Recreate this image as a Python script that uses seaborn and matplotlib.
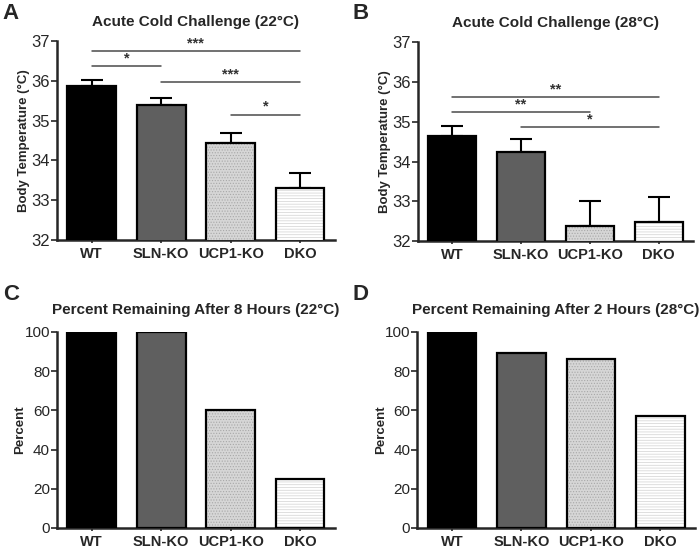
import matplotlib
matplotlib.use("Agg")
import matplotlib.pyplot as plt
import seaborn as sns
import pandas as pd
from matplotlib.colors import to_rgba

sns.set_theme(style="ticks")
plt.rcParams['font.family'] = ['Liberation Sans', 'DejaVu Sans']
plt.rcParams['hatch.linewidth'] = 0.5

# ---- data ----
groups = ["WT", "SLN-KO", "UCP1-KO", "DKO"]
temp22 = [35.88, 35.40, 34.43, 33.31]
err22 = [0.13, 0.18, 0.27, 0.38]
temp28 = [34.65, 34.24, 32.39, 32.47]
err28 = [0.25, 0.33, 0.63, 0.63]
pct8h22 = [100, 100, 60, 25]
pct2h28 = [100, 89, 86, 57]
sig22 = [(0, 3, 36.75, "***"), (0, 1, 36.37, "*"), (1, 3, 35.96, "***"), (2, 3, 35.15, "*")]
sig28 = [(0, 3, 35.61, "**"), (0, 2, 35.25, "**"), (1, 3, 34.87, "*")]

face_colors = ["#000000", "#5f5f5f", "#d6d6d6", "#ffffff"]
hatches = [None, None, "......", "------"]
hatch_colors = [None, None, "#a8a8a8", "#d2d2d2"]

fig = plt.figure(figsize=(7.0, 5.48), dpi=100)
axA = fig.add_axes([0.0814, 0.562, 0.397, 0.363])
axB = fig.add_axes([0.597, 0.560, 0.393, 0.363])
axC = fig.add_axes([0.0814, 0.0365, 0.397, 0.358])
axD = fig.add_axes([0.596, 0.0365, 0.397, 0.358])


def draw(ax, vals, errs, title, ylabel, ylim, yticks, sigs, title_pad,
         ytick_size, ylabel_x):
    df = pd.DataFrame({"group": groups, "value": vals})
    sns.barplot(data=df, x="group", y="value", hue="group", palette=face_colors,
                legend=False, edgecolor="black", linewidth=1.6, width=0.7,
                ax=ax, zorder=3)
    for p, h, hc in zip(ax.patches, hatches, hatch_colors):
        if h:
            p.set_hatch(h)
            p._hatch_color = to_rgba(hc)
    if errs is not None:
        ax.errorbar(range(len(groups)), vals,
                    yerr=[[0] * len(errs), errs], fmt="none", ecolor="black",
                    elinewidth=1.5, capsize=8, capthick=1.5, zorder=2)
    if sigs:
        for i, j, y, s in sigs:
            ax.plot([i, j], [y, y], color="#4a4a4a", lw=1.1, zorder=4, clip_on=False)
            ax.text((i + j) / 2, y + 0.02, s, ha="center", va="bottom",
                    fontsize=10.5, fontweight="bold", color="#333333")
    ax.set_xlim(-0.5, 3.5)
    ax.set_ylim(*ylim)
    ax.set_yticks(yticks)
    ax.set_xlabel("")
    ax.set_ylabel(ylabel, fontsize=9.5, fontweight="bold")
    ax.yaxis.set_label_coords(ylabel_x, 0.5)
    ax.set_title(title, fontsize=11, fontweight="bold", pad=title_pad)
    sns.despine(ax=ax)
    ax.spines["left"].set_linewidth(1.8)
    ax.spines["bottom"].set_linewidth(1.8)
    ax.tick_params(axis="y", labelsize=ytick_size, length=4, width=1.2, pad=1)
    ax.tick_params(axis="x", labelsize=10.5, length=2.5, width=1.2, pad=2.5)
    for lab in ax.get_xticklabels():
        lab.set_fontweight("bold")


draw(axA, temp22, err22, "Acute Cold Challenge (22°C)", "Body Temperature (°C)",
     (32, 37), [32, 33, 34, 35, 36, 37], sig22, 11, 12, -0.097)
draw(axB, temp28, err28, "Acute Cold Challenge (28°C)", "Body Temperature (°C)",
     (32, 37), [32, 33, 34, 35, 36, 37], sig28, 11, 12, -0.097)
draw(axC, pct8h22, None, "Percent Remaining After 8 Hours (22°C)", "Percent",
     (0, 100), [0, 20, 40, 60, 80, 100], None, 13, 11, -0.11)
draw(axD, pct2h28, None, "Percent Remaining After 2 Hours (28°C)", "Percent",
     (0, 100), [0, 20, 40, 60, 80, 100], None, 13, 11, -0.11)

for lbl, x, y in [("A", 0.004, 0.995), ("B", 0.503, 0.995), ("C", 0.004, 0.482), ("D", 0.503, 0.482)]:
    fig.text(x, y, lbl, fontsize=16, fontweight="bold", ha="left", va="top")

fig.savefig("out.png", dpi=100)
